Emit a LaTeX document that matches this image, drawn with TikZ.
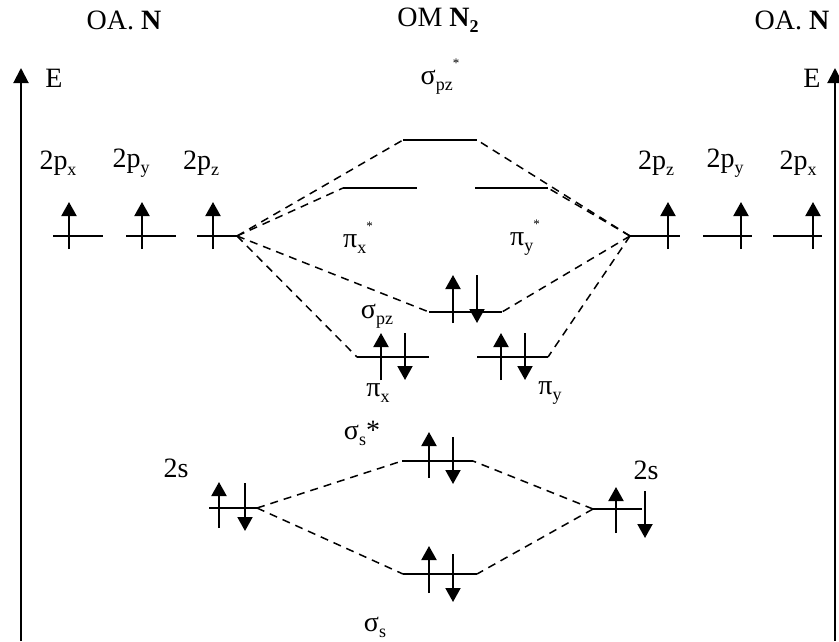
\documentclass[tikz,border=0pt]{standalone}
\usepackage{fontspec}
\setmainfont{Liberation Serif}
\usetikzlibrary{arrows.meta}
\newcommand\lo[1]{\raisebox{-0.22em}{\fontsize{18}{18}\selectfont #1}}
\newcommand\hi[1]{\raisebox{0.6em}{\fontsize{13}{13}\selectfont #1}}
\begin{document}
\begin{tikzpicture}[x=1pt,y=-1pt,
  font=\fontsize{28}{30}\selectfont,
  lvl/.style={line width=2pt},
  dsh/.style={line width=1.5pt, dash pattern=on 8pt off 6pt},
  spin/.style={line width=2pt,-{Triangle[length=14pt,width=15pt]}},
  axis/.style={line width=2pt,-{Triangle[length=15pt,width=15pt]}},
  lbl/.style={inner sep=0pt}]
\useasboundingbox (0,0) rectangle (839,641);
% axes
\coordinate (axLb) at (21,641); \coordinate (axLt) at (21,68);
\coordinate (axRb) at (835,641); \coordinate (axRt) at (835,68);
\draw[axis] (axLb) -- (axLt);
\draw[axis] (axRb) -- (axRt);
% titles
\node[lbl] (tL) at (124,20) {OA. \textbf{N}};
\node[lbl] (tM) at (438,20) {OM \textbf{N\lo{2}}};
\node[lbl] (tR) at (792,20) {OA. \textbf{N}};
\node[lbl] (eL) at (54,78) {E};
\node[lbl] (eR) at (812,78) {E};
% level coordinates
\coordinate (a1) at (53,236);  \coordinate (a2) at (103,236);
\coordinate (b1) at (126,236); \coordinate (b2) at (176,236);
\coordinate (c1) at (197,236); \coordinate (c2) at (237,236);
\coordinate (d1) at (630,236); \coordinate (d2) at (680,236);
\coordinate (e1) at (703,236); \coordinate (e2) at (752,236);
\coordinate (f1) at (773,236); \coordinate (f2) at (822,236);
\coordinate (ss1) at (403,140); \coordinate (ss2) at (477,140);
\coordinate (px1) at (343,188); \coordinate (px2) at (417,188);
\coordinate (py1) at (475,188); \coordinate (py2) at (548,188);
\coordinate (sz1) at (429,312); \coordinate (sz2) at (502,312);
\coordinate (qx1) at (357,357); \coordinate (qx2) at (429,357);
\coordinate (qy1) at (477,357); \coordinate (qy2) at (548,357);
\coordinate (sa1) at (402,461); \coordinate (sa2) at (473,461);
\coordinate (sb1) at (403,574); \coordinate (sb2) at (477,574);
\coordinate (l1) at (209,508); \coordinate (l2) at (257,508);
\coordinate (r1) at (593,509); \coordinate (r2) at (642,509);
\foreach \p/\q in {a1/a2,b1/b2,c1/c2,d1/d2,e1/e2,f1/f2,ss1/ss2,px1/px2,py1/py2,sz1/sz2,qx1/qx2,qy1/qy2,sa1/sa2,sb1/sb2,l1/l2,r1/r2}
  \draw[lvl] (\p) -- (\q);
% dashed correlation lines
\draw[dsh] (c2) -- (ss1);
\draw[dsh] (c2) -- (px1);
\draw[dsh] (c2) -- (sz1);
\draw[dsh] (c2) -- (qx1);
\draw[dsh] (d1) -- (ss2);
\draw[dsh] (d1) -- (py2);
\draw[dsh] (d1) -- (sz2);
\draw[dsh] (d1) -- (qy2);
\draw[dsh] (l2) -- (sa1);
\draw[dsh] (l2) -- (sb1);
\draw[dsh] (r1) -- (sa2);
\draw[dsh] (r1) -- (sb2);
% spins up
\foreach \x/\ya/\yb in {69/249/202,142/249/202,213/249/202,668/249/202,741/249/202,813/249/202,
  453/323/275,381/380/333,501/380/333,429/478/432,219/528/482,616/533/487,429/593/546}
  \draw[spin] (\x,\ya) -- (\x,\yb);
% spins down
\foreach \x/\ya/\yb in {477/275/323,405/333/380,525/333/380,453/437/484,245/483/531,645/491/538,453/554/602}
  \draw[spin] (\x,\ya) -- (\x,\yb);
% labels
\node[lbl] (lss) at (440,77) {σ\lo{pz}\hi{*}};
\node[lbl] (l2px) at (58,163) {2p\lo{x}};
\node[lbl] (l2py) at (131,163) {2p\lo{y}};
\node[lbl] (l2pz) at (201,163) {2p\lo{z}};
\node[lbl] (r2pz) at (656,163) {2p\lo{z}};
\node[lbl] (r2py) at (725,163) {2p\lo{y}};
\node[lbl] (r2px) at (798,163) {2p\lo{x}};
\node[lbl] (lpxs) at (358,238) {π\lo{x}\hi{*}};
\node[lbl] (lpys) at (525,238) {π\lo{y}\hi{*}};
\node[lbl] (lsz) at (377,316) {σ\lo{pz}};
\node[lbl] (lqx) at (378,393) {π\lo{x}};
\node[lbl] (lqy) at (550,393) {π\lo{y}};
\node[lbl] (lsa) at (362,433) {σ\lo{s}*};
\node[lbl] (l2s) at (176,468) {2s};
\node[lbl] (r2s) at (646,470) {2s};
\node[lbl] (lsb) at (375,627) {σ\lo{s}};
\end{tikzpicture}
\end{document}
